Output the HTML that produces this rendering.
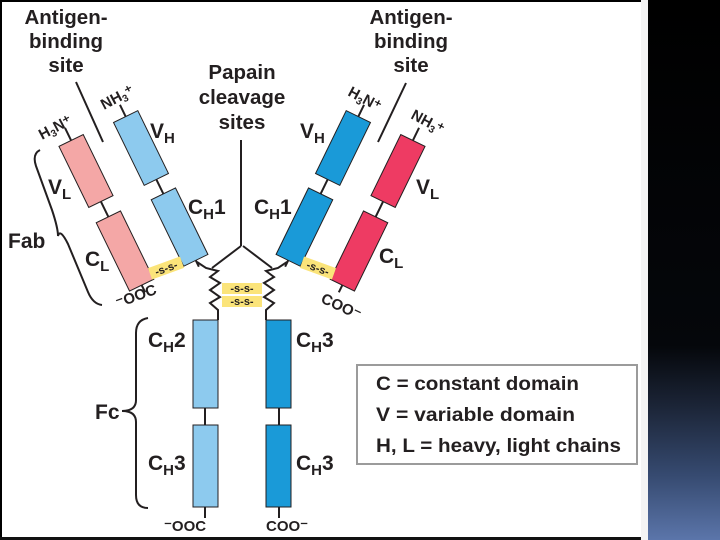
<!DOCTYPE html>
<html><head><meta charset="utf-8"><style>
html,body{margin:0;padding:0;background:#fff}
svg{display:block}
text{font-family:"Liberation Sans",sans-serif;font-weight:bold;fill:#231f20}
</style></head><body>
<svg width="720" height="540" viewBox="0 0 720 540" xmlns="http://www.w3.org/2000/svg">
<defs>
<linearGradient id="g" x1="0" y1="0" x2="0" y2="1">
<stop offset="0" stop-color="#000"/><stop offset="0.64" stop-color="#05070b"/>
<stop offset="0.75" stop-color="#1b2436"/><stop offset="0.88" stop-color="#364a70"/>
<stop offset="1" stop-color="#5b75aa"/></linearGradient>
</defs>
<rect width="720" height="540" fill="#fff"/>
<rect x="0" y="0" width="648" height="2" fill="#000"/>
<rect x="0" y="0" width="2" height="540" fill="#000"/>
<rect x="0" y="537" width="648" height="3" fill="#111"/>
<rect x="641" y="0" width="7" height="540" fill="#f4f4f4"/>
<rect x="648" y="0" width="72" height="540" fill="url(#g)"/>

<line x1="76" y1="82" x2="103" y2="142" stroke="#231f20" stroke-width="2"/>
<line x1="406" y1="83" x2="378" y2="142" stroke="#231f20" stroke-width="2"/>
<line x1="241" y1="140" x2="241" y2="246" stroke="#231f20" stroke-width="2"/>

<g>
 <g transform="translate(141,148) rotate(-26)" stroke="#231f20">
  <line x1="0" y1="-48" x2="0" y2="132" stroke-width="2"/>
  <rect x="-13.5" y="-35" width="27" height="70" fill="#8dcaee" stroke-width="1"/>
  <rect x="-13.5" y="51" width="27" height="74" fill="#8dcaee" stroke-width="1"/>
 </g>
 <g transform="translate(86,171) rotate(-26)" stroke="#231f20">
  <line x1="0" y1="-48" x2="0" y2="135" stroke-width="2"/>
  <rect x="-13.5" y="-34" width="27" height="68" fill="#f4a7a6" stroke-width="1"/>
  <rect x="-13.5" y="51" width="27" height="76" fill="#f4a7a6" stroke-width="1"/>
 </g>
 <polyline points="197,262 206,268 218,271 210,277 220,283 210,290 220,297 210,303 218,310 218,320" fill="none" stroke="#231f20" stroke-width="2"/>
 <polyline points="212,268 241,246" fill="none" stroke="#231f20" stroke-width="2"/>
 <line x1="205" y1="507" x2="205" y2="518" stroke="#231f20" stroke-width="2"/>
 <line x1="205" y1="408" x2="205" y2="425" stroke="#231f20" stroke-width="2"/>
 <rect x="193" y="320" width="25" height="88" fill="#8dcaee" stroke="#231f20" stroke-width="1"/>
 <rect x="193" y="425" width="25" height="82" fill="#8dcaee" stroke="#231f20" stroke-width="1"/>
 <g transform="translate(166,268) rotate(-20)">
  <rect x="-17" y="-6" width="34" height="12" fill="#fbe47a"/>
  <text x="0" y="4" font-size="11" text-anchor="middle">-s-s-</text>
 </g>
</g>
<g transform="translate(484,0) scale(-1,1)">
 <g transform="translate(141,148) rotate(-26)" stroke="#231f20">
  <line x1="0" y1="-48" x2="0" y2="132" stroke-width="2"/>
  <rect x="-13.5" y="-35" width="27" height="70" fill="#1a9ad8" stroke-width="1"/>
  <rect x="-13.5" y="51" width="27" height="74" fill="#1a9ad8" stroke-width="1"/>
 </g>
 <g transform="translate(86,171) rotate(-26)" stroke="#231f20">
  <line x1="0" y1="-48" x2="0" y2="135" stroke-width="2"/>
  <rect x="-13.5" y="-34" width="27" height="68" fill="#ee3b63" stroke-width="1"/>
  <rect x="-13.5" y="51" width="27" height="76" fill="#ee3b63" stroke-width="1"/>
 </g>
 <polyline points="197,262 206,268 218,271 210,277 220,283 210,290 220,297 210,303 218,310 218,320" fill="none" stroke="#231f20" stroke-width="2"/>
 <polyline points="212,268 241,246" fill="none" stroke="#231f20" stroke-width="2"/>
 <line x1="205" y1="507" x2="205" y2="518" stroke="#231f20" stroke-width="2"/>
 <line x1="205" y1="408" x2="205" y2="425" stroke="#231f20" stroke-width="2"/>
 <rect x="193" y="320" width="25" height="88" fill="#1a9ad8" stroke="#231f20" stroke-width="1"/>
 <rect x="193" y="425" width="25" height="82" fill="#1a9ad8" stroke="#231f20" stroke-width="1"/>
 <g transform="translate(166,268) rotate(-20)">
  <rect x="-17" y="-6" width="34" height="12" fill="#fbe47a"/>
 </g>
</g>
<g transform="translate(318,268) rotate(20)"><text x="0" y="4" font-size="11" text-anchor="middle">-s-s-</text></g>

<rect x="222" y="283" width="40" height="11" fill="#fbe47a"/>
<rect x="222" y="296" width="40" height="11" fill="#fbe47a"/>
<text x="242" y="292" font-size="11" text-anchor="middle">-s-s-</text>
<text x="242" y="305" font-size="11" text-anchor="middle">-s-s-</text>

<!-- braces -->
<path d="M40,150 Q32,154 36,166 L52,210 Q58,228 58,236 Q60,228 68,244 L88,292 Q93,304 102,305" fill="none" stroke="#231f20" stroke-width="2"/>
<path d="M148,318 Q136,320 136,333 L136,400 Q136,411 122,411 Q136,411 136,422 L136,495 Q136,508 148,508" fill="none" stroke="#231f20" stroke-width="2"/>

<g font-size="20.5" text-anchor="middle">
<text x="66" y="24">Antigen-</text><text x="66" y="48">binding</text><text x="66" y="72">site</text>
<text x="411" y="24">Antigen-</text><text x="411" y="48">binding</text><text x="411" y="72">site</text>
<text x="242" y="79">Papain</text><text x="242" y="104">cleavage</text><text x="242" y="129">sites</text>
</g>
<g font-size="21">
<text x="150" y="138">V<tspan font-size="15" dy="5">H</tspan></text>
<text x="300" y="138">V<tspan font-size="15" dy="5">H</tspan></text>
<text x="48" y="194">V<tspan font-size="15" dy="5">L</tspan></text>
<text x="416" y="194">V<tspan font-size="15" dy="5">L</tspan></text>
<text x="188" y="214">C<tspan font-size="15" dy="5">H</tspan><tspan dy="-5">1</tspan></text>
<text x="254" y="214">C<tspan font-size="15" dy="5">H</tspan><tspan dy="-5">1</tspan></text>
<text x="85" y="266">C<tspan font-size="15" dy="5">L</tspan></text>
<text x="379" y="263">C<tspan font-size="15" dy="5">L</tspan></text>
<text x="8" y="248">Fab</text>
<text x="95" y="419">Fc</text>
<text x="148" y="347">C<tspan font-size="15" dy="5">H</tspan><tspan dy="-5">2</tspan></text>
<text x="148" y="470">C<tspan font-size="15" dy="5">H</tspan><tspan dy="-5">3</tspan></text>
<text x="296" y="347">C<tspan font-size="15" dy="5">H</tspan><tspan dy="-5">3</tspan></text>
<text x="296" y="470">C<tspan font-size="15" dy="5">H</tspan><tspan dy="-5">3</tspan></text>
</g>
<g font-size="15">
<text x="164" y="531">⁻OOC</text>
<text x="266" y="531">COO⁻</text>
<text transform="translate(118,308) rotate(-20)">⁻OOC</text>
<text transform="translate(320,302) rotate(25)">COO⁻</text>
<text transform="translate(42,140) rotate(-28)">H<tspan font-size="10" dy="3">3</tspan><tspan dy="-3">N⁺</tspan></text>
<text transform="translate(104,110) rotate(-28)">NH<tspan font-size="10" dy="3">3</tspan><tspan dy="-3">⁺</tspan></text>
<text transform="translate(347,95) rotate(28)">H<tspan font-size="10" dy="3">3</tspan><tspan dy="-3">N⁺</tspan></text>
<text transform="translate(410,118) rotate(28)">NH<tspan font-size="10" dy="3">3</tspan><tspan dy="-3">⁺</tspan></text>
</g>

<rect x="357" y="365" width="280" height="99" fill="#fff" stroke="#9b9b9b" stroke-width="2"/>
<g font-size="19">
<text x="376" y="390" textLength="203" lengthAdjust="spacingAndGlyphs">C = constant domain</text>
<text x="376" y="421" textLength="199" lengthAdjust="spacingAndGlyphs">V = variable domain</text>
<text x="376" y="452" textLength="245" lengthAdjust="spacingAndGlyphs">H, L = heavy, light chains</text>
</g>
</svg>
</body></html>
